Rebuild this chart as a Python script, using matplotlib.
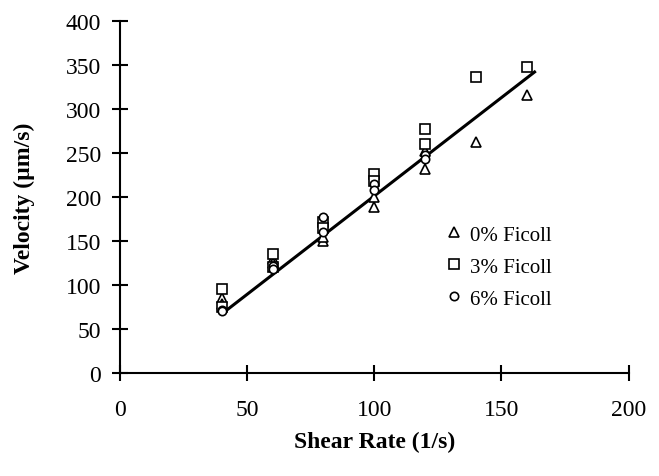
import matplotlib
matplotlib.use("Agg")
import matplotlib.pyplot as plt

plt.rcParams["font.family"] = ["Liberation Serif", "DejaVu Serif"]

# values
tri_x = [40, 40, 60, 60, 80, 80, 100, 100, 120, 120, 140, 160]
tri_y = [85, 78, 130, 125, 150, 155, 189, 200, 232, 252, 263, 316]
sq_x = [40, 40, 60, 60, 80, 80, 100, 100, 120, 120, 140, 160]
sq_y = [95, 75, 135, 120, 172, 165, 226, 218, 277, 260, 336, 348]
circ_x = [40, 40, 60, 60, 80, 80, 100, 100, 120, 120]
circ_y = [72, 70, 122, 118, 177, 160, 215, 208, 248, 243]
fit_x = [40, 163]
fit_y = [67, 342]

fig = plt.figure(figsize=(6.59, 4.77), dpi=100)
ax = fig.add_axes([0.182, 0.216, 0.772, 0.738])

ax.plot(fit_x, fit_y, color="black", linewidth=2.2, zorder=2)
ax.plot(tri_x, tri_y, linestyle="none", marker="^", markersize=6.5, markerfacecolor="white",
        markeredgecolor="black", markeredgewidth=1.2, label="0% Ficoll", zorder=3)
ax.plot(sq_x, sq_y, linestyle="none", marker="s", markersize=6.5, markerfacecolor="white",
        markeredgecolor="black", markeredgewidth=1.2, label="3% Ficoll", zorder=3)
ax.plot(circ_x, circ_y, linestyle="none", marker="o", markersize=6, markerfacecolor="white",
        markeredgecolor="black", markeredgewidth=1.2, label="6% Ficoll", zorder=3)

ax.set_xlim(0, 200)
ax.set_ylim(0, 400)
ax.set_xticks([0, 50, 100, 150, 200])
ax.set_yticks(range(0, 401, 50))

for side in ["top", "right"]:
    ax.spines[side].set_visible(False)
for side in ["left", "bottom"]:
    ax.spines[side].set_linewidth(1.5)

ax.tick_params(direction="inout", length=11, width=1.5, labelsize=17)
ax.tick_params(axis="x", pad=13)
ax.tick_params(axis="y", pad=8)

ax.set_xlabel("Shear Rate (1/s)", fontsize=17, fontweight="bold", labelpad=8)
ax.set_ylabel("Velocity (µm/s)", fontsize=17, fontweight="bold", labelpad=22)

ax.legend(loc="upper left", bbox_to_anchor=(0.62, 0.45), frameon=False, fontsize=15,
          handlelength=0.8, handletextpad=0.35, labelspacing=0.6, borderpad=0)

plt.savefig("out.png", dpi=100)
